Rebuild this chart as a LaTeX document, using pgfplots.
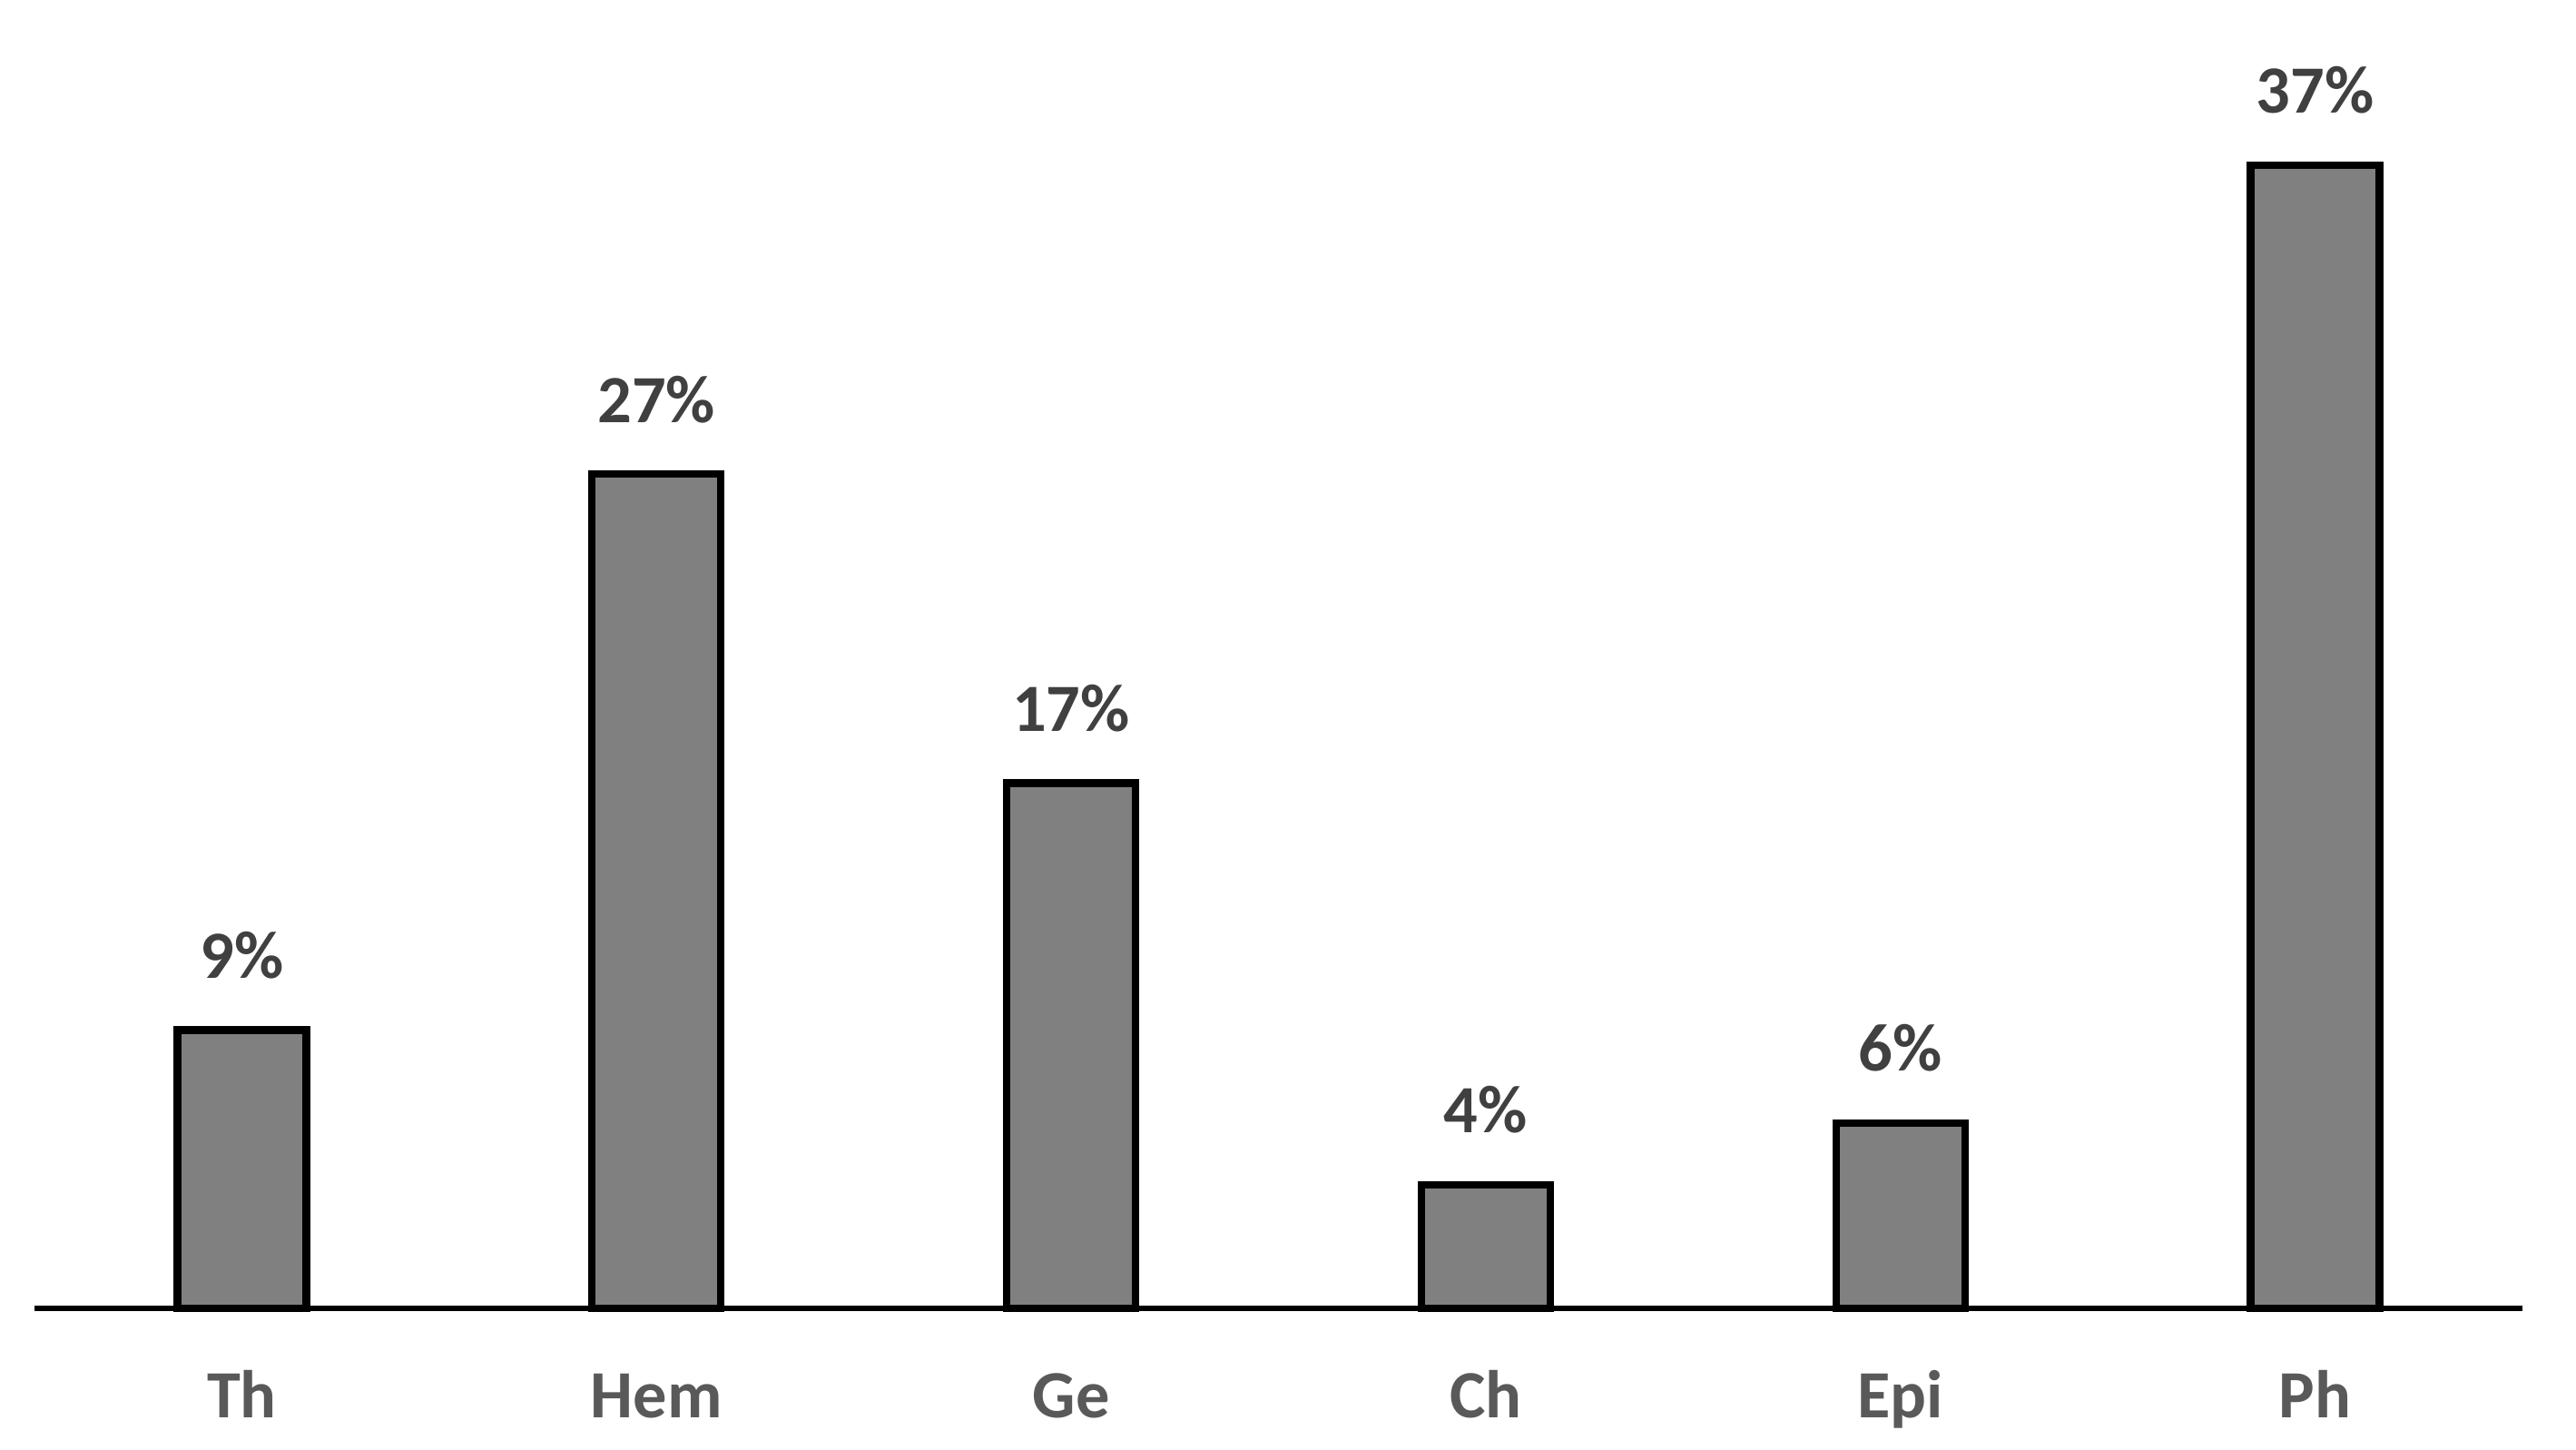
\documentclass[border=0pt]{standalone}
\usepackage{pgfplots}
\pgfplotsset{compat=1.18}
\usepackage{fontspec}
\setmainfont{Carlito}
\definecolor{barfill}{RGB}{128,128,128}
\definecolor{vallab}{RGB}{64,64,64}
\definecolor{ticklab}{RGB}{89,89,89}
\begin{document}
\begin{tikzpicture}
\useasboundingbox (-9.5pt,-38.75pt) rectangle (700pt,360.25pt);
\begin{axis}[
  at={(0,0)}, anchor=south west,
  scale only axis,
  width=685.25pt, height=360.25pt,
  xmin=-0.5, xmax=5.5, ymin=0, ymax=42.34,
  axis x line=bottom, axis y line=none,
  x axis line style={-, line width=1.7pt, black},
  major tick length=0pt,
  /pgf/number format/assume math mode=true,
  xtick=data,
  xticklabels={Th,Hem,Ge,Ch,Epi,Ph},
  xticklabel style={anchor=base, yshift=-30pt, inner sep=0pt, text=ticklab, font=\bfseries\fontsize{18.6}{18.6}\selectfont},
  ytick=\empty,
  clip=false,
  ybar, bar width=35.5pt, bar shift=0pt,
  nodes near coords={\pgfmathprintnumber[assume math mode=true]{\pgfplotspointmeta}\%},
  every node near coord/.append style={anchor=base, yshift=14.25pt, inner sep=0pt, text=vallab, font=\bfseries\fontsize{18.6}{18.6}\selectfont},
]
\addplot[fill=barfill, draw=black, line width=2.1pt] coordinates {(0,9) (1,27) (2,17) (3,4) (4,6) (5,37)};
\end{axis}
\end{tikzpicture}
\end{document}
